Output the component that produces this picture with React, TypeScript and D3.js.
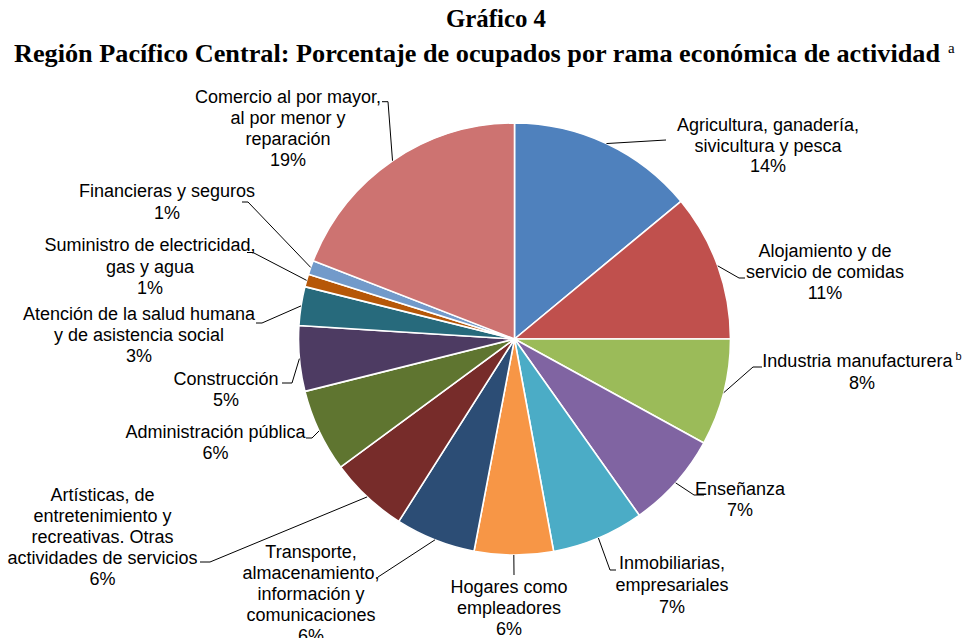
import React from "react";
import * as d3 from "d3";

const categories = [
  "Agricultura, ganadería, sivicultura y pesca",
  "Alojamiento y de servicio de comidas",
  "Industria manufacturera",
  "Enseñanza",
  "Inmobiliarias, empresariales",
  "Hogares como empleadores",
  "Transporte, almacenamiento, información y comunicaciones",
  "Artísticas, de entretenimiento y recreativas. Otras actividades de servicios",
  "Administración pública",
  "Construcción",
  "Atención de la salud humana y de asistencia social",
  "Suministro de electricidad, gas y agua",
  "Financieras y seguros",
  "Comercio al por mayor, al por menor y reparación",
];

const values = [14.0, 11.0, 8.0, 7.2, 6.9, 5.9, 6.0, 5.9, 6.2, 4.9, 2.9, 0.95, 1.05, 19.1];

const labelLines = [
  ["Agricultura, ganadería,", "sivicultura y pesca"],
  ["Alojamiento y de", "servicio de comidas"],
  ["Industria manufacturera"],
  ["Enseñanza"],
  ["Inmobiliarias,", "empresariales"],
  ["Hogares como", "empleadores"],
  ["Transporte,", "almacenamiento,", "información y", "comunicaciones"],
  ["Artísticas, de", "entretenimiento y", "recreativas. Otras", "actividades de servicios"],
  ["Administración pública"],
  ["Construcción"],
  ["Atención de la salud humana", "y de asistencia social"],
  ["Suministro de electricidad,", "gas y agua"],
  ["Financieras y seguros"],
  ["Comercio al por mayor,", "al por menor y", "reparación"],
];

const labelNotes = ["", "", "b", "", "", "", "", "", "", "", "", "", "", ""];

const colors = [
  "#4F81BD", "#C0504D", "#9BBB59", "#8064A2", "#4BACC6", "#F79646", "#2C4D75",
  "#772C2A", "#5F7530", "#4D3B62", "#276A7C", "#B65708", "#729ACA", "#CD7371",
];

const titleLine1 = "Gráfico 4";
const titleLine2 = "Región Pacífico Central: Porcentaje de ocupados por rama económica de actividad";
const titleNote = "a";

// label layout (positions only)
const layout = [
  { x: 768, y: 125, dy: 20.5, pts: [[666, 140]] },
  { x: 825, y: 251, dy: 21, pts: [[739, 278], [745, 278]] },
  { x: 862, y: 361, dy: 22, pts: [[753, 367], [762, 367]] },
  { x: 740, y: 489, dy: 21, pts: [[694, 495], [704, 495]] },
  { x: 672, y: 563, dy: 22, pts: [[610, 570], [616, 570]] },
  { x: 509, y: 587, dy: 21, pts: [[514, 575]] },
  { x: 311, y: 552, dy: 21, pts: [[378, 577]] },
  { x: 102.5, y: 495, dy: 20.8, pts: [[210, 562], [200, 562]] },
  { x: 215.5, y: 432, dy: 21, pts: [[312, 438], [306, 438]] },
  { x: 226, y: 379, dy: 21, pts: [[292, 383], [282, 383]] },
  { x: 139, y: 314, dy: 21, pts: [[262, 323], [256, 323]] },
  { x: 150, y: 245, dy: 21.3, pts: [[253, 252.5], [247, 252.5]] },
  { x: 167, y: 191, dy: 22, pts: [[248, 202], [242, 202]] },
  { x: 288, y: 97, dy: 20.8, pts: [[388, 101.7], [382, 101.7]] },
];

const W = 974;
const H = 638;
const CX = 514.5;
const CY = 339;
const R = 216;
const FS = 18;

export default function App() {
  const pie = d3.pie<number>().sort(null).startAngle(0).endAngle(2 * Math.PI).value((d) => d);
  const arcs = pie(values);
  const arcGen = d3.arc<d3.PieArcDatum<number>>().innerRadius(0).outerRadius(R);
  const line = d3.line();

  return (
    <svg
      width={W}
      height={H}
      style={{ position: "absolute", left: 0, top: 0, background: "#fff" }}
      fontFamily="'Liberation Sans', Arial, sans-serif"
    >
      <rect width={W} height={H} fill="#fff" />
      <g fontFamily="'Liberation Serif', 'Times New Roman', serif" fontWeight="bold" fill="#000">
        <text x={446} y={27} fontSize={26} textLength={100} lengthAdjust="spacingAndGlyphs">
          {titleLine1}
        </text>
        <text x={14} y={62} fontSize={26} textLength={926} lengthAdjust="spacingAndGlyphs">
          {titleLine2}
        </text>
      </g>
      <text x={948} y={53} fontSize={15} fontFamily="'Liberation Serif', 'Times New Roman', serif">
        {titleNote}
      </text>
      <g transform={`translate(${CX},${CY})`}>
        {arcs.map((a, i) => (
          <path key={categories[i]} d={arcGen(a) || ""} fill={colors[i]} stroke="#fff" strokeWidth={1.6} strokeLinejoin="round" />
        ))}
      </g>
      {arcs.map((a, i) => {
        const mid = (a.startAngle + a.endAngle) / 2;
        const sx = CX + R * Math.sin(mid);
        const sy = CY - R * Math.cos(mid);
        const L = layout[i];
        const pts: [number, number][] = [[sx, sy], ...(L.pts as [number, number][])];
        const lines = [...labelLines[i], `${Math.round(values[i])}%`];
        return (
          <g key={"lab" + i}>
            <path d={line(pts) || ""} fill="none" stroke="#000" strokeWidth={1} />
            {lines.map((t, j) => (
              <text
                key={j}
                x={L.x}
                y={L.y + j * L.dy + FS * 0.36}
                fontSize={FS}
                textAnchor="middle"
                fill="#000"
              >
                {t}
                {j === 0 && labelNotes[i] ? (
                  <tspan fontSize={11} dy={-7}>
                    {" " + labelNotes[i]}
                  </tspan>
                ) : null}
              </text>
            ))}
          </g>
        );
      })}
    </svg>
  );
}
